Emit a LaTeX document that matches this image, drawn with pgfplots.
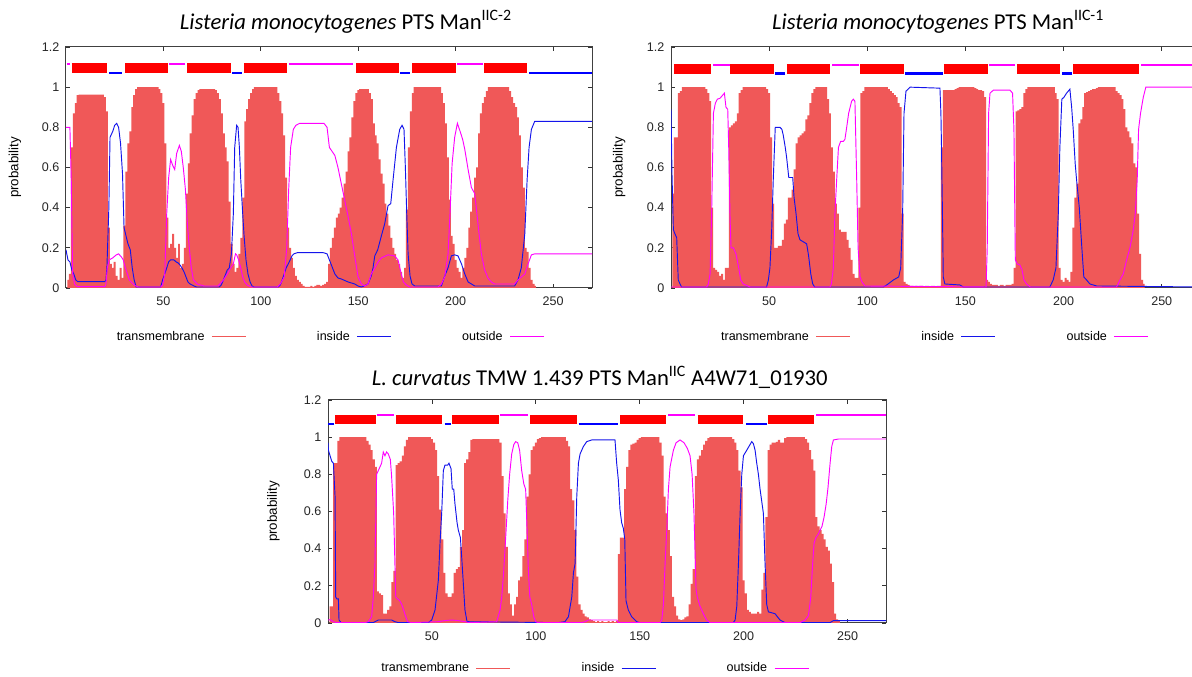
\documentclass[border=0pt]{standalone}
\usepackage{fontspec}
\setmainfont{Liberation Sans}
\newfontfamily\titlefont{Carlito}
\usepackage{pgfplots}
\pgfplotsset{compat=1.18}
\definecolor{tmred}{RGB}{240,88,88}
\definecolor{inblue}{RGB}{20,20,235}
\definecolor{outmag}{RGB}{255,0,255}
\pgfplotsset{
  tmhmm/.style={
    scale only axis,
    anchor=south west,
    xmin=0, ymin=0, ymax=1.2,
    no markers,
    xtick={50,100,150,200,250},
    xticklabels={50,100,150,200,250},
    ytick={0,0.2,0.4,0.6,0.8,1,1.2},
    yticklabels={0,0.2,0.4,0.6,0.8,1,1.2},
    tick align=inside,
    xtick pos=both, ytick pos=both,
    major tick length=3pt,
    tick style={line width=0.5pt, black!80},
    axis line style={line width=0.75pt, black!75},
    tick label style={font=\fontsize{9.4}{11}\selectfont, text=black!85},
    xticklabel style={yshift=-3pt},
    yticklabel style={xshift=-1.5pt},
    /pgf/number format/assume math mode=true,
    ylabel={probability},
    ylabel style={font=\fontsize{10}{12}\selectfont, anchor=center},
    title style={font=\titlefont\fontsize{17}{20}\selectfont, anchor=base},
    legend columns=3,
    legend plot pos=right,
    legend image code/.code={\draw[##1] (0pt,0pt) -- (25.5pt,0pt);},
    legend style={draw=none, fill=none, inner sep=0pt, anchor=west,
       font=\fontsize{9.4}{11}\selectfont,
       nodes={inner sep=0pt},
       /tikz/every odd column/.style={column sep=5.25pt},
       /tikz/every even column/.style={column sep=53pt}},
  },
  tmbar/.style={const plot mark mid, fill=tmred, draw=none, forget plot},
  inline/.style={inblue, line width=0.7pt, forget plot},
  outline/.style={outmag, line width=0.7pt, forget plot},
}
\begin{document}
\begin{tikzpicture}
\path[use as bounding box, fill=white] (0,0) rectangle (894pt,507.75pt);
% ---------------- Plot 1 ----------------
\begin{axis}[tmhmm, at={(49.5pt,291.75pt)}, width=394.5pt, height=180.75pt, xmax=270,
  title={\textit{Listeria monocytogenes} PTS Man\textsuperscript{IIC-2}},
  title style={at={(axis description cs:0.532,1.041)}},
  ylabel style={at={(axis description cs:-0.097,0.5)}},
  legend style={at={(axis description cs:0.096,-0.202)}}]
\addlegendimage{tmred, line width=0.6pt}\addlegendentry{transmembrane}
\addlegendimage{inblue, line width=0.6pt}\addlegendentry{inside}
\addlegendimage{outmag, line width=0.6pt}\addlegendentry{outside}
\addplot[tmbar] coordinates {(0.5,0)(1,0.04)(2,0.07)(3,0.70)(4,0.87)(5,0.92)(6,0.96)(7,0.963)(8,0.963)(9,0.963)(10,0.963)(11,0.963)(12,0.963)(13,0.963)(14,0.963)(15,0.963)(16,0.963)(17,0.963)(18,0.963)(19,0.963)(20,0.95)(21,0.88)(22,0.30)(23,0.12)(24,0.10)(25,0.13)(26,0.06)(27,0.04)(28,0.10)(29,0.05)(30,0.31)(31,0.58)(32,0.72)(33,0.78)(34,0.90)(35,0.96)(36,0.99)(37,1)(38,1)(39,1)(40,1)(41,1)(42,1)(43,1)(44,1)(45,1)(46,1)(47,1)(48,0.99)(49,0.97)(50,0.92)(51,0.72)(52,0.35)(53,0.20)(54,0.22)(55,0.27)(56,0.20)(57,0.15)(58,0.22)(59,0.10)(60,0.12)(61,0.20)(62,0.47)(63,0.62)(64,0.77)(65,0.86)(66,0.94)(67,0.97)(68,0.985)(69,0.99)(70,0.99)(71,0.99)(72,0.99)(73,0.99)(74,0.99)(75,0.99)(76,0.99)(77,0.985)(78,0.97)(79,0.94)(80,0.87)(81,0.77)(82,0.70)(83,0.63)(84,0.43)(85,0.22)(86,0.12)(87,0.08)(88,0.10)(89,0.17)(90,0.25)(91,0.45)(92,0.83)(93,0.89)(94,0.94)(95,0.97)(96,0.99)(97,1)(98,1)(99,1)(100,1)(101,1)(102,1)(103,1)(104,1)(105,1)(106,1)(107,1)(108,1)(109,0.97)(110,0.93)(111,0.87)(112,0.76)(113,0.55)(114,0.30)(115,0.20)(116,0.15)(117,0.10)(118,0.06)(119,0.04)(120,0.03)(121,0.02)(122,0.01)(123,0.005)(124,0.005)(125,0.005)(126,0.01)(127,0.005)(128,0.01)(129,0.015)(130,0.015)(131,0.01)(132,0.015)(133,0.02)(134,0.03)(135,0.12)(136,0.20)(137,0.25)(138,0.30)(139,0.35)(140,0.37)(141,0.40)(142,0.45)(143,0.52)(144,0.58)(145,0.68)(146,0.75)(147,0.85)(148,0.93)(149,0.97)(150,0.985)(151,0.99)(152,0.99)(153,0.99)(154,0.99)(155,0.99)(156,0.97)(157,0.94)(158,0.82)(159,0.76)(160,0.72)(161,0.64)(162,0.57)(163,0.52)(164,0.42)(165,0.37)(166,0.31)(167,0.25)(168,0.20)(169,0.17)(170,0.14)(171,0.12)(172,0.08)(173,0.05)(174,0.10)(175,0.39)(176,0.70)(177,0.88)(178,0.97)(179,1)(180,1)(181,1)(182,1)(183,1)(184,1)(185,1)(186,1)(187,1)(188,1)(189,1)(190,1)(191,1)(192,1)(193,0.97)(194,0.92)(195,0.82)(196,0.65)(197,0.44)(198,0.26)(199,0.22)(200,0.14)(201,0.10)(202,0.08)(203,0.05)(204,0.10)(205,0.15)(206,0.20)(207,0.30)(208,0.38)(209,0.45)(210,0.55)(211,0.60)(212,0.77)(213,0.87)(214,0.92)(215,0.95)(216,0.98)(217,1)(218,1)(219,1)(220,1)(221,1)(222,1)(223,1)(224,1)(225,1)(226,1)(227,1)(228,0.98)(229,0.95)(230,0.92)(231,0.90)(232,0.85)(233,0.76)(234,0.60)(235,0.50)(236,0.20)(237,0.18)(238,0.10)(239,0.04)(240,0.02)(241,0.01)(241.5,0)} \closedcycle;
\addplot[inline] coordinates {(0,0.19)(1,0.14)(2,0.13)(3,0.09)(4,0.07)(5,0.04)(6,0.032)(20,0.032)(20.5,0.04)(21,0.1)(22,0.4)(22.6,0.75)(24,0.78)(25,0.81)(26,0.82)(27,0.8)(28,0.72)(29,0.57)(29.8,0.3)(30.8,0.26)(31.8,0.22)(33,0.19)(34,0.1)(35,0.04)(36,0.005)(48.6,0.005)(49.6,0.04)(50.7,0.07)(51.7,0.1)(52.7,0.13)(53.7,0.14)(55.4,0.14)(56.5,0.13)(57.5,0.125)(58.5,0.115)(59.5,0.1)(60.6,0.08)(61.6,0.055)(62.6,0.03)(63.7,0.02)(65.7,0.01)(67,0.005)(78.7,0.005)(79.7,0.015)(80.8,0.04)(81.8,0.065)(82.8,0.09)(83.8,0.1)(84.9,0.17)(85.9,0.37)(86.6,0.7)(87.6,0.81)(88.3,0.8)(89,0.7)(89.7,0.54)(90.7,0.37)(91.4,0.26)(92.4,0.14)(93.4,0.07)(94.5,0.03)(95.5,0.01)(96.5,0.005)(109,0.005)(110,0.015)(111,0.04)(112,0.07)(113,0.1)(114.6,0.13)(116,0.16)(117,0.17)(118.8,0.176)(132,0.176)(134,0.17)(136,0.12)(138,0.07)(139.6,0.05)(141.3,0.045)(144.8,0.03)(148.2,0.02)(149.9,0.01)(151.6,0.005)(153,0.01)(155,0.02)(156.7,0.06)(157.6,0.1)(158.5,0.16)(160,0.19)(161.9,0.26)(163.6,0.32)(165.3,0.41)(166.7,0.42)(167.9,0.54)(169.6,0.7)(171.3,0.79)(172.5,0.81)(173.5,0.79)(174.2,0.6)(174.9,0.37)(175.6,0.17)(176.6,0.06)(177.6,0.02)(179,0.01)(192.7,0.01)(194.4,0.06)(196.1,0.1)(197.8,0.16)(199.5,0.165)(201.2,0.16)(203,0.12)(204.7,0.07)(206.4,0.03)(209.8,0.01)(230.3,0.01)(232,0.04)(233.7,0.1)(235.5,0.27)(236.7,0.54)(237.7,0.7)(238.9,0.79)(240.6,0.83)(270,0.83)};
\addplot[outline] coordinates {(0,0.8)(2,0.8)(2.7,0.54)(3.4,0.07)(4.4,0.02)(5.8,0.007)(20,0.007)(20.5,0.02)(21.2,0.1)(22.2,0.14)(24,0.15)(25.7,0.164)(27,0.17)(28.4,0.155)(29.4,0.14)(30.5,0.1)(31.5,0.07)(32.5,0.04)(35,0.015)(37,0.005)(48.6,0.005)(49.6,0.015)(50.7,0.07)(51.7,0.37)(52.7,0.55)(53.7,0.64)(54.8,0.61)(55.8,0.59)(56.8,0.67)(58.2,0.71)(59.2,0.68)(60.2,0.6)(61.3,0.49)(62.3,0.32)(63.3,0.2)(64.3,0.1)(65.4,0.04)(67.4,0.02)(70.8,0.01)(78,0.01)(79.4,0.025)(80.8,0.04)(82.8,0.07)(84.5,0.1)(85.9,0.12)(87,0.17)(87.6,0.165)(88.6,0.14)(89.7,0.1)(90.7,0.055)(91.7,0.03)(93,0.015)(95,0.005)(108.5,0.005)(110,0.02)(112,0.055)(113.3,0.2)(114.3,0.49)(115.3,0.7)(116.7,0.79)(118,0.81)(120,0.82)(132.4,0.82)(134,0.8)(135.2,0.7)(136.6,0.68)(138,0.66)(139.6,0.6)(141.3,0.52)(143,0.44)(144.8,0.355)(146.5,0.27)(148.2,0.16)(149.9,0.056)(151.6,0.02)(153.3,0.01)(155,0.02)(156.7,0.07)(158.5,0.1)(160.2,0.13)(161.9,0.15)(165.3,0.165)(168.7,0.16)(170.4,0.14)(172.1,0.07)(173.2,0.03)(174.7,0.015)(176.4,0.005)(191,0.005)(192.7,0.02)(194.4,0.055)(196.1,0.17)(197.1,0.37)(198.2,0.62)(199.5,0.75)(200.9,0.82)(202.3,0.78)(203.6,0.74)(204.7,0.69)(206.4,0.59)(208.1,0.5)(209.8,0.47)(210.6,0.4)(211.8,0.29)(213.2,0.17)(214.9,0.09)(216.6,0.05)(218.3,0.03)(220,0.02)(230.3,0.02)(232,0.04)(233.7,0.055)(235.5,0.07)(237.2,0.12)(238.9,0.165)(240.6,0.17)(270,0.17)};
\addplot[red, line width=7.5pt, unbounded coords=jump, forget plot] coordinates {(2.95,1.093)(21.3,1.093)(26,nan)(30.3,1.093)(52.6,1.093)(57,nan)(62.2,1.093)(84.6,1.093)(88,nan)(91.3,1.093)(113.6,1.093)(130,nan)(148.8,1.093)(170.7,1.093)(174,nan)(177.8,1.093)(200,1.093)(207,nan)(214.6,1.093)(236.8,1.093)};
\addplot[blue, line width=1.6pt, unbounded coords=jump, forget plot] coordinates {(22.2,1.072)(28.9,1.072)(50,nan)(85.4,1.072)(90.5,1.072)(130,nan)(171.6,1.072)(176.6,1.072)(200,nan)(237.8,1.072)(270,1.072)};
\addplot[outmag, line width=1.6pt, unbounded coords=jump, forget plot] coordinates {(0.4,1.115)(2,1.115)(20,nan)(53.1,1.115)(61.2,1.115)(90,nan)(114.6,1.115)(147.4,1.115)(170,nan)(200.8,1.115)(214,1.115)};
\end{axis}
% ---------------- Plot 2 ----------------
\begin{axis}[tmhmm, at={(503.25pt,291.75pt)}, width=397.5pt, height=180.75pt, xmax=270,
  title={\textit{Listeria monocytogenes} PTS Man\textsuperscript{IIC-1}},
  title style={at={(axis description cs:0.504,1.041)}},
  ylabel style={at={(axis description cs:-0.098,0.5)}},
  legend style={at={(axis description cs:0.094,-0.202)}}]
\addlegendimage{tmred, line width=0.6pt}\addlegendentry{transmembrane}
\addlegendimage{inblue, line width=0.6pt}\addlegendentry{inside}
\addlegendimage{outmag, line width=0.6pt}\addlegendentry{outside}
\addplot[tmbar] coordinates {(0.5,0)(1,0.47)(2,0.75)(3,0.75)(4,0.97)(5,0.98)(6,1)(7,1)(8,1)(9,1)(10,1)(11,1)(12,1)(13,1)(14,1)(15,1)(16,1)(17,1)(18,0.99)(19,0.97)(20,0.93)(21,0.40)(22,0.10)(23,0.09)(24,0.08)(25,0.06)(26,0.07)(27,0.04)(28,0.10)(29,0.10)(30,0.80)(31,0.81)(32,0.82)(33,0.83)(34,0.87)(35,0.97)(36,0.985)(37,1)(38,1)(39,1)(40,1)(41,1)(42,1)(43,1)(44,1)(45,1)(46,1)(47,1)(48,1)(49,0.99)(50,0.97)(51,0.75)(52,0.42)(53,0.20)(54,0.20)(55,0.21)(56,0.21)(57,0.24)(58,0.32)(59,0.34)(60,0.45)(61,0.45)(62,0.49)(63,0.59)(64,0.72)(65,0.75)(66,0.76)(67,0.77)(68,0.78)(69,0.84)(70,0.86)(71,0.92)(72,0.97)(73,0.99)(74,1)(75,1)(76,1)(77,1)(78,1)(79,1)(80,0.94)(81,0.87)(82,0.70)(83,0.58)(84,0.42)(85,0.37)(86,0.29)(87,0.28)(88,0.28)(89,0.28)(90,0.24)(91,0.20)(92,0.14)(93,0.07)(94,0.05)(95,0.05)(96,0.40)(97,0.97)(98,0.98)(99,1)(100,1)(101,1)(102,1)(103,1)(104,1)(105,1)(106,1)(107,1)(108,1)(109,1)(110,1)(111,0.99)(112,0.98)(113,0.97)(114,0.96)(115,0.95)(116,0.92)(117,0.90)(118,0.37)(119,0.03)(120,0.02)(121,0.015)(122,0.01)(123,0.01)(124,0.005)(125,0.01)(126,0.005)(127,0.01)(128,0.01)(129,0.005)(130,0.01)(131,0.01)(132,0.005)(133,0.01)(134,0.01)(135,0.005)(136,0.01)(137,0.01)(138,0.70)(139,0.985)(140,0.985)(141,0.985)(142,0.985)(143,0.985)(144,0.985)(145,0.99)(146,0.995)(147,1)(148,1)(149,1)(150,1)(151,1)(152,1)(153,1)(154,1)(155,0.995)(156,0.99)(157,0.985)(158,0.985)(159,0.98)(160,0.95)(161,0.04)(162,0.03)(163,0.02)(164,0.015)(165,0.015)(166,0.015)(167,0.01)(168,0.015)(169,0.015)(170,0.01)(171,0.015)(172,0.015)(173,0.015)(174,0.02)(175,0.10)(176,0.88)(177,0.885)(178,0.89)(179,0.90)(180,0.97)(181,0.99)(182,1)(183,1)(184,1)(185,1)(186,1)(187,1)(188,1)(189,1)(190,1)(191,1)(192,1)(193,1)(194,1)(195,1)(196,0.97)(197,0.94)(198,0.10)(199,0.04)(200,0.03)(201,0.05)(202,0.04)(203,0.03)(204,0.08)(205,0.30)(206,0.45)(207,0.52)(208,0.82)(209,0.84)(210,0.90)(211,0.97)(212,0.975)(213,0.98)(214,0.985)(215,0.99)(216,0.99)(217,0.995)(218,1)(219,1)(220,1)(221,1)(222,1)(223,1)(224,1)(225,1)(226,1)(227,0.98)(228,0.97)(229,0.96)(230,0.94)(231,0.89)(232,0.80)(233,0.78)(234,0.75)(235,0.72)(236,0.62)(237,0.60)(238,0.37)(239,0.17)(240,0.04)(241,0.02)(241.5,0)} \closedcycle;
\addplot[inline] coordinates {(0,0.89)(0.5,0.57)(1.2,0.29)(2,0.27)(2.9,0.25)(3.7,0.04)(4.6,0.02)(5.4,0.005)(48.7,0.005)(49.6,0.04)(50.4,0.1)(51.3,0.29)(52.1,0.54)(53.1,0.8)(54.2,0.8)(55.5,0.8)(56.5,0.79)(57.2,0.76)(58.2,0.7)(58.9,0.65)(60,0.55)(61,0.55)(62,0.55)(62.7,0.45)(63.7,0.37)(64.7,0.27)(65.7,0.24)(67.4,0.23)(69.1,0.22)(70.1,0.16)(71.2,0.07)(72.2,0.02)(73.2,0.005)(108.2,0.005)(109.9,0.015)(113.3,0.04)(116,0.055)(117,0.1)(118,0.37)(118.7,0.87)(119.7,0.98)(121.8,1.0)(137,0.995)(137.5,0.87)(137.8,0.7)(138.4,0.29)(138.7,0.055)(139.5,0.02)(147.2,0.015)(148.9,0.005)(193,0.005)(194.7,0.04)(196.1,0.1)(197.3,0.37)(198.1,0.7)(199.1,0.94)(200.2,0.95)(201.5,0.97)(203.2,0.99)(204.1,0.9)(204.9,0.79)(205.9,0.62)(206.6,0.54)(208,0.4)(209.3,0.2)(210.3,0.055)(211.7,0.04)(213.4,0.02)(216.8,0.01)(270,0.005)};
\addplot[outline] coordinates {(0,0.005)(18.2,0.005)(19,0.02)(19.9,0.07)(20.7,0.37)(21.6,0.87)(22.6,0.92)(23.6,0.94)(25,0.945)(26.3,0.96)(27.2,0.97)(28,0.9)(28.9,0.89)(29.4,0.7)(30.1,0.34)(30.6,0.2)(31.8,0.2)(33.1,0.17)(34.5,0.1)(35.5,0.04)(36.8,0.02)(40.3,0.005)(81,0.005)(81.7,0.02)(82.7,0.1)(83.5,0.37)(84.4,0.54)(85.3,0.7)(86.4,0.73)(87.8,0.73)(88.6,0.74)(89.5,0.8)(90.5,0.87)(92,0.93)(92.9,0.94)(93.7,0.93)(94.6,0.54)(95.3,0.2)(96.3,0.055)(97.3,0.03)(98.8,0.01)(160.5,0.005)(161.1,0.2)(161.8,0.87)(162.5,0.97)(164.2,0.985)(172.7,0.985)(174,0.97)(174.7,0.79)(175.4,0.14)(176.4,0.12)(177.7,0.115)(178.8,0.09)(179.8,0.04)(181.1,0.02)(183,0.005)(227,0.005)(228.7,0.04)(230.4,0.07)(232.1,0.14)(233.8,0.2)(235.5,0.29)(236.5,0.37)(237.5,0.54)(238.2,0.79)(239.2,0.87)(240.6,0.95)(241.9,1.0)(270,1.0)};
\addplot[red, line width=7.5pt, unbounded coords=jump, forget plot] coordinates {(1.5,1.089)(20.4,1.089)(25,nan)(30,1.089)(52.5,1.089)(56,nan)(59,1.089)(81.2,1.089)(88,nan)(96.2,1.089)(118.5,1.089)(128,nan)(139,1.089)(161.5,1.089)(168,nan)(176.2,1.089)(198.3,1.089)(202,nan)(205,1.089)(238.3,1.089)};
\addplot[blue, line width=1.6pt, unbounded coords=jump, forget plot] coordinates {(53,1.068)(58.3,1.068)(90,nan)(119.2,1.068)(138.5,1.068)(170,nan)(199.4,1.068)(204.4,1.068)};
\addplot[outmag, line width=1.6pt, unbounded coords=jump, forget plot] coordinates {(21.3,1.111)(29.8,1.111)(50,nan)(82.1,1.111)(95.6,1.111)(130,nan)(162.1,1.111)(175.2,1.111)(200,nan)(239.4,1.111)(270,1.111)};
\end{axis}
% ---------------- Plot 3 ----------------
\begin{axis}[tmhmm, at={(246pt,40.5pt)}, width=418.5pt, height=167.25pt, xmax=268.5,
  title={\textit{L. curvatus} TMW 1.439 PTS Man\textsuperscript{IIC} A4W71\_01930},
  title style={at={(axis description cs:0.487,1.031)}},
  ylabel style={at={(axis description cs:-0.098,0.5)}},
  legend style={at={(axis description cs:0.095,-0.203)}}]
\addlegendimage{tmred, line width=0.6pt}\addlegendentry{transmembrane}
\addlegendimage{inblue, line width=0.6pt}\addlegendentry{inside}
\addlegendimage{outmag, line width=0.6pt}\addlegendentry{outside}
\addplot[tmbar] coordinates {(0.5,0)(1,0.09)(2,0.09)(3,0.86)(4,0.86)(5,0.98)(6,1)(7,1)(8,1)(9,1)(10,1)(11,1)(12,1)(13,1)(14,1)(15,1)(16,1)(17,1)(18,1)(19,0.98)(20,0.96)(21,0.93)(22,0.88)(23,0.84)(24,0.17)(25,0.16)(26,0.15)(27,0.05)(28,0.05)(29,0.07)(30,0.09)(31,0.22)(32,0.28)(33,0.85)(34,0.86)(35,0.87)(36,0.90)(37,0.95)(38,0.985)(39,1)(40,1)(41,1)(42,1)(43,1)(44,1)(45,1)(46,1)(47,1)(48,1)(49,1)(50,0.99)(51,0.97)(52,0.93)(53,0.79)(54,0.61)(55,0.45)(56,0.27)(57,0.16)(58,0.14)(59,0.14)(60,0.16)(61,0.27)(62,0.29)(63,0.30)(64,0.41)(65,0.50)(66,0.86)(67,0.88)(68,0.92)(69,0.985)(70,0.99)(71,0.99)(72,0.99)(73,0.99)(74,0.99)(75,0.99)(76,0.99)(77,0.99)(78,0.99)(79,0.99)(80,0.99)(81,0.99)(82,0.99)(83,0.97)(84,0.79)(85,0.59)(86,0.41)(87,0.16)(88,0.10)(89,0.04)(90,0.10)(91,0.14)(92,0.23)(93,0.25)(94,0.36)(95,0.45)(96,0.68)(97,0.80)(98,0.93)(99,0.95)(100,0.97)(101,0.99)(102,0.995)(103,1)(104,1)(105,1)(106,1)(107,1)(108,1)(109,1)(110,1)(111,1)(112,1)(113,1)(114,1)(115,0.98)(116,0.95)(117,0.72)(118,0.66)(119,0.50)(120,0.25)(121,0.10)(122,0.07)(123,0.05)(124,0.035)(125,0.03)(126,0.02)(127,0.015)(128,0.01)(129,0.005)(130,0.01)(131,0.005)(132,0.01)(133,0.005)(134,0.005)(135,0.01)(136,0.005)(137,0.01)(138,0.005)(139,0.01)(140,0.37)(141,0.46)(142,0.46)(143,0.72)(144,0.84)(145,0.93)(146,0.96)(147,0.965)(148,0.97)(149,0.985)(150,0.995)(151,1)(152,1)(153,1)(154,1)(155,1)(156,1)(157,1)(158,1)(159,1)(160,0.97)(161,0.90)(162,0.68)(163,0.59)(164,0.50)(165,0.36)(166,0.14)(167,0.09)(168,0.04)(169,0.02)(170,0.015)(171,0.02)(172,0.03)(173,0.035)(174,0.10)(175,0.21)(176,0.29)(177,0.79)(178,0.88)(179,0.90)(180,0.93)(181,0.96)(182,0.98)(183,0.995)(184,1)(185,1)(186,1)(187,1)(188,1)(189,1)(190,1)(191,1)(192,1)(193,1)(194,1)(195,0.99)(196,0.97)(197,0.93)(198,0.82)(199,0.73)(200,0.23)(201,0.16)(202,0.07)(203,0.06)(204,0.05)(205,0.05)(206,0.05)(207,0.06)(208,0.05)(209,0.18)(210,0.27)(211,0.57)(212,0.93)(213,0.96)(214,0.97)(215,0.97)(216,0.975)(217,0.985)(218,0.97)(219,0.97)(220,0.995)(221,1)(222,1)(223,1)(224,1)(225,1)(226,1)(227,1)(228,1)(229,1)(230,0.99)(231,0.97)(232,0.93)(233,0.88)(234,0.82)(235,0.57)(236,0.52)(237,0.50)(238,0.48)(239,0.45)(240,0.41)(241,0.39)(242,0.32)(243,0.22)(244,0.05)(245,0.02)(246,0.01)(246.5,0)} \closedcycle;
\addplot[inline] coordinates {(0,0.97)(0.2,0.93)(1,0.9)(1.8,0.87)(2.6,0.86)(3.4,0.68)(3.7,0.14)(4.2,0.13)(5,0.13)(5.3,0.016)(6.3,0.002)(21.8,0.002)(22.6,0.007)(24.2,0.016)(30.6,0.016)(32.2,0.007)(33.9,0.002)(48.3,0.002)(49.9,0.016)(51.5,0.07)(53.1,0.23)(53.9,0.43)(54.7,0.59)(55.5,0.82)(56.3,0.85)(57.6,0.85)(58.2,0.86)(59.2,0.83)(59.8,0.72)(60.5,0.72)(61.1,0.64)(62.1,0.54)(62.7,0.5)(63.7,0.46)(64.3,0.36)(65.3,0.18)(65.9,0.07)(66.9,0.007)(110.8,0.002)(114,0.007)(115.7,0.034)(117.3,0.14)(118.1,0.27)(118.9,0.32)(119.7,0.68)(120.5,0.86)(121.3,0.91)(122.9,0.95)(124.5,0.976)(126.9,0.985)(138.1,0.985)(138.9,0.86)(139.7,0.77)(140.5,0.61)(141.3,0.54)(142.1,0.51)(142.8,0.45)(143.4,0.12)(144.5,0.07)(146.1,0.034)(148.5,0.007)(150,0.002)(195,0.002)(195.9,0.016)(196.7,0.09)(197.5,0.32)(198.3,0.59)(199.1,0.8)(199.9,0.9)(201.5,0.93)(203.9,0.976)(204.7,0.965)(205.5,0.93)(206.3,0.86)(207.1,0.8)(207.9,0.72)(209.5,0.59)(210.3,0.32)(211.1,0.1)(211.9,0.06)(213.5,0.055)(215.1,0.05)(217.5,0.016)(219.9,0.002)(241.6,0.002)(243.2,0.013)(268.5,0.013)};
\addplot[outline] coordinates {(0,0.016)(1,0.018)(2.6,0.007)(4,0.002)(17.8,0.002)(19.4,0.007)(21,0.034)(21.8,0.14)(22.6,0.32)(23.4,0.8)(24.2,0.82)(25,0.84)(25.8,0.86)(26.6,0.92)(27.4,0.9)(28.2,0.92)(29,0.91)(30,0.88)(30.6,0.79)(31.6,0.59)(32.6,0.14)(33.5,0.13)(34.5,0.12)(35.5,0.1)(36.4,0.07)(37.4,0.034)(38.3,0.007)(40,0.002)(53.1,0.007)(56.3,0.013)(59.5,0.016)(62.7,0.013)(65.9,0.007)(68,0.002)(81.2,0.007)(82.8,0.07)(83.6,0.14)(84.5,0.27)(85.5,0.46)(86.5,0.66)(87.4,0.8)(88.4,0.91)(89.4,0.96)(90.3,0.976)(91.3,0.97)(92.2,0.93)(93.2,0.82)(94.2,0.75)(95.1,0.72)(95.8,0.5)(96.4,0.29)(97.1,0.14)(98,0.1)(99,0.034)(99.9,0.007)(101,0.002)(122,0.002)(123.7,0.007)(125.3,0.016)(139,0.016)(139.7,0.002)(159.8,0.002)(160.6,0.016)(161.4,0.1)(162.2,0.32)(163,0.5)(163.8,0.72)(164.6,0.84)(166.2,0.93)(167.5,0.97)(169.4,0.985)(171.3,0.97)(172.9,0.94)(174.2,0.9)(175.2,0.8)(176.1,0.59)(177.1,0.18)(177.7,0.14)(179,0.09)(180.6,0.05)(182.2,0.016)(183.8,0.002)(227.1,0.002)(229.6,0.016)(231.2,0.04)(232.3,0.14)(233.2,0.32)(233.9,0.43)(234.8,0.46)(236,0.48)(236.8,0.5)(237.7,0.52)(238.7,0.57)(239.7,0.64)(240.6,0.73)(241.6,0.86)(242.4,0.95)(243.2,0.985)(245.6,0.99)(268.5,0.99)};
\addplot[red, line width=6.7pt, unbounded coords=jump, forget plot] coordinates {(3.6,1.096)(23,1.096)(28,nan)(32.8,1.096)(54.9,1.096)(57,nan)(59.9,1.096)(82.5,1.096)(90,nan)(97.3,1.096)(119.6,1.096)(130,nan)(140.7,1.096)(162.8,1.096)(170,nan)(177.8,1.096)(199.9,1.096)(205,nan)(211.7,1.096)(234,1.096)};
\addplot[blue, line width=1.6pt, unbounded coords=jump, forget plot] coordinates {(0,1.072)(3.1,1.072)(30,nan)(56.1,1.072)(59.3,1.072)(90,nan)(120.6,1.072)(139.5,1.072)(170,nan)(201.1,1.072)(211,1.072)};
\addplot[outmag, line width=1.6pt, unbounded coords=jump, forget plot] coordinates {(23.8,1.117)(31.7,1.117)(60,nan)(82.9,1.117)(96.4,1.117)(130,nan)(163.8,1.117)(176.6,1.117)(200,nan)(234.8,1.117)(268.5,1.117)};
\end{axis}
\end{tikzpicture}
\end{document}
